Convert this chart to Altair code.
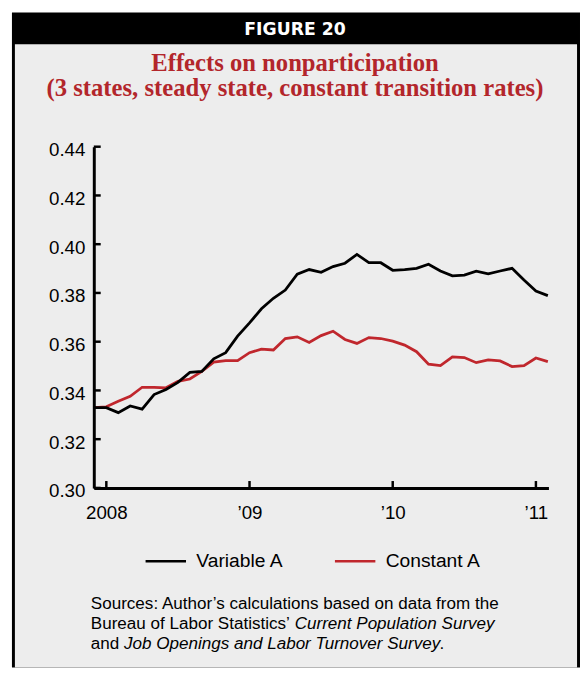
import altair as alt
import pandas as pd

# ---------------- data ----------------
months = [
    "2007-12",
    "2008-01", "2008-02", "2008-03", "2008-04", "2008-05", "2008-06",
    "2008-07", "2008-08", "2008-09", "2008-10", "2008-11", "2008-12",
    "2009-01", "2009-02", "2009-03", "2009-04", "2009-05", "2009-06",
    "2009-07", "2009-08", "2009-09", "2009-10", "2009-11", "2009-12",
    "2010-01", "2010-02", "2010-03", "2010-04", "2010-05", "2010-06",
    "2010-07", "2010-08", "2010-09", "2010-10", "2010-11", "2010-12",
    "2011-01", "2011-02",
]
variable_a = [
    0.3329,
    0.3329, 0.3309, 0.3336, 0.3323, 0.3383, 0.3404,
    0.3433, 0.3474, 0.3478, 0.3530, 0.3555, 0.3623,
    0.3677, 0.3735, 0.3778, 0.3812, 0.3877, 0.3896,
    0.3885, 0.3908, 0.3922, 0.3958, 0.3924, 0.3924,
    0.3893, 0.3896, 0.3901, 0.3918, 0.3890, 0.3870,
    0.3873, 0.3889, 0.3878, 0.3890, 0.3901, 0.3853,
    0.3808, 0.3789,
]
constant_a = [
    0.3329,
    0.3333, 0.3356, 0.3376, 0.3413, 0.3413, 0.3411,
    0.3437, 0.3447, 0.3478, 0.3516, 0.3522, 0.3522,
    0.3555, 0.3569, 0.3566, 0.3613, 0.3620, 0.3597,
    0.3625, 0.3643, 0.3609, 0.3593, 0.3617, 0.3613,
    0.3602, 0.3586, 0.3559, 0.3508, 0.3502, 0.3538,
    0.3535, 0.3514, 0.3525, 0.3521, 0.3498, 0.3502,
    0.3533, 0.3518,
]
series_names = ["Variable A", "Constant A"]
series_colors = ["#000000", "#c0272d"]

y_ticks = [0.30, 0.32, 0.34, 0.36, 0.38, 0.40, 0.42, 0.44]
x_ticks = [0, 12, 24, 36]  # months since Jan 2008
x_tick_labels = ["2008", "\u201909", "\u201910", "\u201911"]

header_text = "FIGURE 20"
title_lines = [
    "Effects on nonparticipation",
    "(3 states, steady state, constant transition rates)",
]
source_line1 = "Sources: Author\u2019s calculations based on data from the"
source_line2a = "Bureau of Labor Statistics\u2019 "
source_line2b = "Current Population Survey"
source_line3a = "and "
source_line3b = "Job Openings and Labor Turnover Survey"
source_line3c = "."

# ---------------- layout ----------------
W, H = 461, 346
PAD = {"left": 87, "top": 136, "right": 32, "bottom": 182}
TOTAL_H = PAD["top"] + H + PAD["bottom"]
TITLE_RED = "#b3262b"
GRAY = "#ededed"
SANS = "Liberation Sans"
SERIF = "Liberation Serif"


def month_index(s):
    y, m = s.split("-")
    return (int(y) - 2008) * 12 + int(m) - 1


m_idx = [month_index(s) for s in months]
df_var = pd.DataFrame({"m": m_idx, "v": variable_a, "series": series_names[0]})
df_con = pd.DataFrame({"m": m_idx, "v": constant_a, "series": series_names[1]})

label_expr = " : ".join(
    f"datum.value == {t} ? '{l}'" for t, l in zip(x_ticks, x_tick_labels)
) + " : ''"

x_scale = alt.Scale(domain=[-1.05, 37.05], nice=False, zero=False)
y_scale = alt.Scale(domain=[0.30, 0.44], nice=False, zero=False)

x_axis = alt.Axis(
    title=None, values=x_ticks, labelExpr=label_expr, ticks=False, tickSize=0,
    grid=False, domainColor="black", domainWidth=3, labelFont=SANS,
    labelFontSize=19, labelColor="black", labelPadding=15.5, labelFlush=False,
    labelAngle=0, zindex=1,
)
y_axis = alt.Axis(
    title=None, values=y_ticks, format=".2f", ticks=False, tickSize=0,
    grid=False, domainColor="black", domainWidth=3, labelFont=SANS,
    labelFontSize=19, labelColor="black", labelPadding=9, labelOffset=3,
    labelFlush=False, zindex=1,
)

color_scale = alt.Scale(domain=series_names, range=series_colors)
legend = alt.Legend(
    orient="none", legendX=51, legendY=398, direction="horizontal", title=None,
    symbolType="stroke", symbolSize=1681, symbolStrokeWidth=2.5,
    labelFont=SANS, labelFontSize=19.5, labelColor="black", labelOffset=9,
    columnPadding=46, padding=0,
)

one = pd.DataFrame({"t": [""]})


def box(x1, x2, y1, y2, color):
    return alt.Chart(one).mark_rect(color=color).encode(
        x=alt.value(x1), x2=alt.value(x2), y=alt.value(y1), y2=alt.value(y2)
    )


def label(text, x, y, **style):
    return alt.Chart(pd.DataFrame({"t": [text]})).mark_text(**style).encode(
        text="t:N", x=alt.value(x), y=alt.value(y)
    )


frame_black = box(-83, 493, -PAD["top"], TOTAL_H - PAD["top"], "black")
frame_gray = box(-80, 490, -104, TOTAL_H - PAD["top"], GRAY)

header = label(header_text, 204, -113.5, align="center", baseline="alphabetic",
               font="DejaVu Sans", fontSize=17.5, fontWeight="bold", color="white")
title1 = label(title_lines[0], 204, -76.5, align="center", baseline="alphabetic",
               font=SERIF, fontSize=25, fontWeight="bold", color=TITLE_RED)
title2 = label(title_lines[1], 204, -51.5, align="center", baseline="alphabetic",
               font=SERIF, fontSize=25, fontWeight="bold", color=TITLE_RED)

src_style = dict(align="left", baseline="alphabetic", font=SANS, fontSize=17.3, color="black")
src_italic = dict(src_style, fontStyle="italic")
s1 = label(source_line1, -3, 469, **src_style)
s2a = label(source_line2a, -3, 489, **src_style)
s2b = label(source_line2b, 203.7, 489, **src_italic)
s3a = label(source_line3a, -3, 509, **src_style)
s3b = label(source_line3b, 30.7, 509, **src_italic)
s3c = label(source_line3c, 350.5, 509, **src_style)


def line_layer(df):
    return alt.Chart(df).mark_line(strokeWidth=2.8, strokeJoin="miter").encode(
        x=alt.X("m:Q", scale=x_scale, axis=x_axis),
        y=alt.Y("v:Q", scale=y_scale, axis=y_axis),
        color=alt.Color("series:N", scale=color_scale, legend=legend),
    )


red_line = line_layer(df_con)
black_line = line_layer(df_var)

y_tick_marks = alt.Chart(pd.DataFrame({"v": y_ticks})).mark_rule(
    color="black", strokeWidth=2.5
).encode(
    y=alt.Y("v:Q", scale=y_scale, axis=y_axis),
    x=alt.value(0), x2=alt.value(7),
)
x_tick_marks = alt.Chart(pd.DataFrame({"m": x_ticks})).mark_rule(
    color="black", strokeWidth=2.5
).encode(
    x=alt.X("m:Q", scale=x_scale, axis=x_axis),
    y=alt.value(H), y2=alt.value(H - 7),
)

chart = alt.layer(
    frame_black, frame_gray, header, title1, title2,
    s1, s2a, s2b, s3a, s3b, s3c,
    red_line, black_line, y_tick_marks, x_tick_marks,
).properties(
    width=W, height=H,
    autosize=alt.AutoSizeParams(type="none"),
    padding=PAD,
).configure(background="white").configure_view(stroke=None)

chart.save("out.html", embed_options={"renderer": "svg", "actions": False})
